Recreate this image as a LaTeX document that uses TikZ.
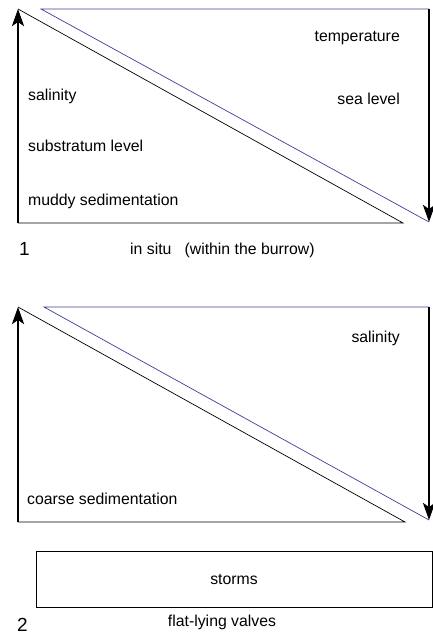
\documentclass[tikz,border=0pt]{standalone}
\usepackage{fontspec}
\setmainfont{Liberation Sans}
\usetikzlibrary{arrows.meta, positioning}
\definecolor{navy}{RGB}{62,62,150}

\begin{document}
\begin{tikzpicture}[x=1pt, y=-1pt,
  trend/.style={line width=2.8pt, -{Stealth[length=17pt, width=12pt, inset=4pt]}},
  edge/.style={line width=0.7pt},
  lbl/.style={font=\fontsize{15.8}{18}\selectfont, inner sep=0pt},
  num/.style={font=\fontsize{19}{22}\selectfont, inner sep=0pt}]
  \useasboundingbox (0,0) rectangle (433,635);

  \coordinate (upA) at (18,9);
  \coordinate (baseA) at (18,223);
  \coordinate (endA) at (403,223);
  \coordinate (blueA) at (41,9);
  \coordinate (topA) at (429,9);
  \coordinate (downA) at (429,222);
  \draw[edge] (upA) -- (endA) -- (baseA);
  \draw[edge, navy] (topA) -- (blueA) -- (downA);
  \draw[trend] (baseA) -- (upA);
  \draw[trend] (topA) -- (downA);

  \node[lbl, anchor=east] (temp) at (400,38) {temperature};
  \node[lbl, anchor=east] (sea) at (400,99) {sea level};
  \node[lbl, anchor=west] (salA) at (28,96) {salinity};
  \node[lbl, anchor=west] (subst) at (28,146) {substratum level};
  \node[lbl, anchor=west] (muddy) at (28,201) {muddy sedimentation};
  \node[num, anchor=west] (numA) at (19,249) {1};
  \node[lbl, anchor=west] (insitu) at (130,250) {in situ \ \ (within the burrow)};

  \coordinate (upB) at (18,307);
  \coordinate (baseB) at (18,522);
  \coordinate (endB) at (405,522);
  \coordinate (blueB) at (44,307);
  \coordinate (topB) at (429,307);
  \coordinate (downB) at (429,520);
  \draw[edge] (upB) -- (endB) -- (baseB);
  \draw[edge, navy] (topB) -- (blueB) -- (downB);
  \draw[trend] (baseB) -- (upB);
  \draw[trend] (topB) -- (downB);

  \node[lbl, anchor=east] (salB) at (400,338) {salinity};
  \node[lbl, anchor=west] (coarse) at (27,499) {coarse sedimentation};
  \node[lbl, draw, line width=0.7pt, minimum width=396pt, minimum height=56pt]
    (storms) at (234,579) {storms};
  \node[num, anchor=west] (numB) at (17,625) {2};
  \node[lbl] (flat) at (222,622) {flat-lying valves};
\end{tikzpicture}
\end{document}
